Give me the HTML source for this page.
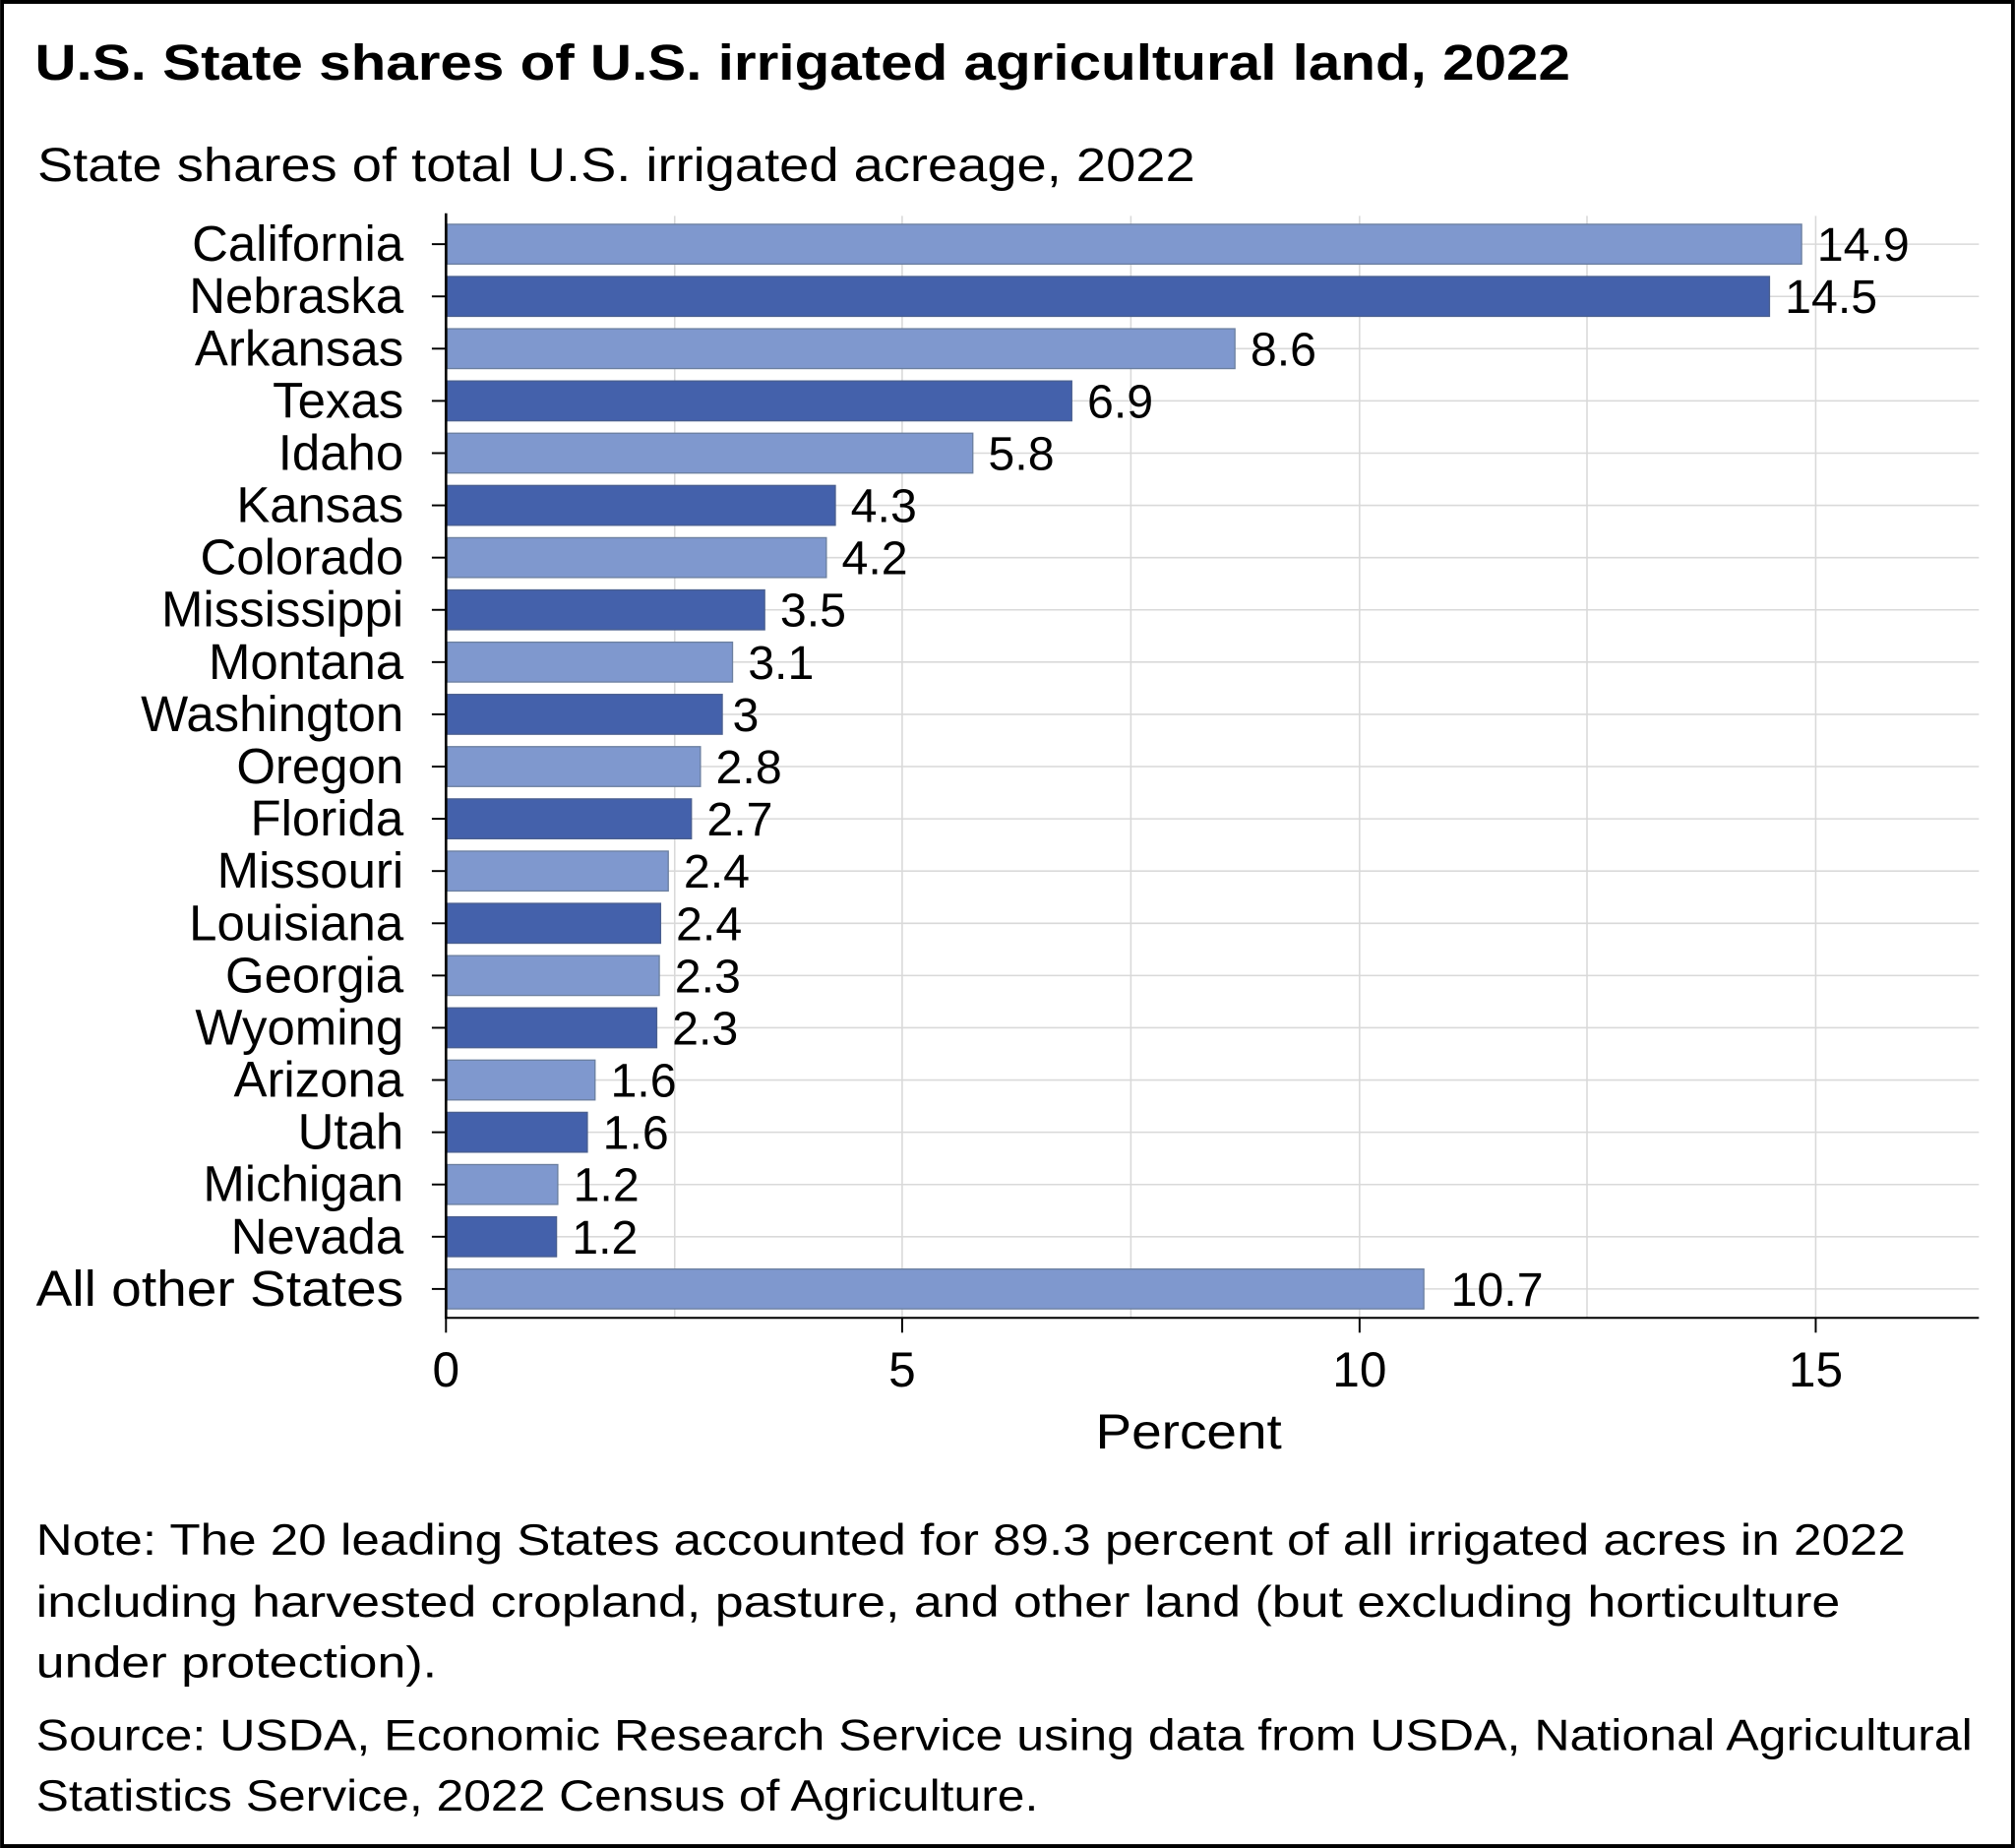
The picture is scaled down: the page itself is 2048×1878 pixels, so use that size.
<!DOCTYPE html>
<html><head><meta charset="utf-8"><style>
html,body{margin:0;padding:0;background:#fff}
svg{display:block}
text{font-family:"Liberation Sans",Arial,sans-serif;fill:#000}
.l{font-size:39px;text-anchor:end}
.v{font-size:37px}
.a{fill:#7f98ce;stroke:#6b7f9f;stroke-width:1}
.b{fill:#4461ab;stroke:#4a5f8f;stroke-width:1}
</style></head><body>
<svg width="2048" height="1878" viewBox="0 0 1568 1438" xmlns="http://www.w3.org/2000/svg">
<rect x="1.5" y="1.5" width="1565" height="1435" fill="#fff" stroke="#000" stroke-width="3"/>
<text x="27" y="62" font-size="39" font-weight="bold" textLength="1195" lengthAdjust="spacingAndGlyphs">U.S. State shares of U.S. irrigated agricultural land, 2022</text>
<text x="29" y="141" font-size="37" textLength="901" lengthAdjust="spacingAndGlyphs">State shares of total U.S. irrigated acreage, 2022</text>
<g stroke="#d9d9d9" stroke-width="1.2">
<line x1="525" y1="168" x2="525" y2="1025"/>
<line x1="702" y1="168" x2="702" y2="1025"/>
<line x1="880" y1="168" x2="880" y2="1025"/>
<line x1="1058" y1="168" x2="1058" y2="1025"/>
<line x1="1235" y1="168" x2="1235" y2="1025"/>
<line x1="1413" y1="168" x2="1413" y2="1025"/>
<line x1="347" y1="190" x2="1540" y2="190"/>
<line x1="347" y1="230.65" x2="1540" y2="230.65"/>
<line x1="347" y1="271.3" x2="1540" y2="271.3"/>
<line x1="347" y1="311.95" x2="1540" y2="311.95"/>
<line x1="347" y1="352.6" x2="1540" y2="352.6"/>
<line x1="347" y1="393.25" x2="1540" y2="393.25"/>
<line x1="347" y1="433.9" x2="1540" y2="433.9"/>
<line x1="347" y1="474.55" x2="1540" y2="474.55"/>
<line x1="347" y1="515.2" x2="1540" y2="515.2"/>
<line x1="347" y1="555.85" x2="1540" y2="555.85"/>
<line x1="347" y1="596.5" x2="1540" y2="596.5"/>
<line x1="347" y1="637.15" x2="1540" y2="637.15"/>
<line x1="347" y1="677.8" x2="1540" y2="677.8"/>
<line x1="347" y1="718.45" x2="1540" y2="718.45"/>
<line x1="347" y1="759.1" x2="1540" y2="759.1"/>
<line x1="347" y1="799.75" x2="1540" y2="799.75"/>
<line x1="347" y1="840.4" x2="1540" y2="840.4"/>
<line x1="347" y1="881.05" x2="1540" y2="881.05"/>
<line x1="347" y1="921.7" x2="1540" y2="921.7"/>
<line x1="347" y1="962.35" x2="1540" y2="962.35"/>
<line x1="347" y1="1003" x2="1540" y2="1003"/>
</g>
<g stroke="#000" stroke-width="1.5">
<line x1="336" y1="190" x2="347" y2="190"/>
<line x1="336" y1="230.65" x2="347" y2="230.65"/>
<line x1="336" y1="271.3" x2="347" y2="271.3"/>
<line x1="336" y1="311.95" x2="347" y2="311.95"/>
<line x1="336" y1="352.6" x2="347" y2="352.6"/>
<line x1="336" y1="393.25" x2="347" y2="393.25"/>
<line x1="336" y1="433.9" x2="347" y2="433.9"/>
<line x1="336" y1="474.55" x2="347" y2="474.55"/>
<line x1="336" y1="515.2" x2="347" y2="515.2"/>
<line x1="336" y1="555.85" x2="347" y2="555.85"/>
<line x1="336" y1="596.5" x2="347" y2="596.5"/>
<line x1="336" y1="637.15" x2="347" y2="637.15"/>
<line x1="336" y1="677.8" x2="347" y2="677.8"/>
<line x1="336" y1="718.45" x2="347" y2="718.45"/>
<line x1="336" y1="759.1" x2="347" y2="759.1"/>
<line x1="336" y1="799.75" x2="347" y2="799.75"/>
<line x1="336" y1="840.4" x2="347" y2="840.4"/>
<line x1="336" y1="881.05" x2="347" y2="881.05"/>
<line x1="336" y1="921.7" x2="347" y2="921.7"/>
<line x1="336" y1="962.35" x2="347" y2="962.35"/>
<line x1="336" y1="1003" x2="347" y2="1003"/>
</g>
<rect class="a" x="348" y="174.5" width="1054" height="31"/>
<rect class="b" x="348" y="215.15" width="1029" height="31"/>
<rect class="a" x="348" y="255.8" width="613" height="31"/>
<rect class="b" x="348" y="296.45" width="486" height="31"/>
<rect class="a" x="348" y="337.1" width="409" height="31"/>
<rect class="b" x="348" y="377.75" width="302" height="31"/>
<rect class="a" x="348" y="418.4" width="295" height="31"/>
<rect class="b" x="348" y="459.05" width="247" height="31"/>
<rect class="a" x="348" y="499.7" width="222" height="31"/>
<rect class="b" x="348" y="540.35" width="214" height="31"/>
<rect class="a" x="348" y="581" width="197" height="31"/>
<rect class="b" x="348" y="621.65" width="190" height="31"/>
<rect class="a" x="348" y="662.3" width="172" height="31"/>
<rect class="b" x="348" y="702.95" width="166" height="31"/>
<rect class="a" x="348" y="743.6" width="165" height="31"/>
<rect class="b" x="348" y="784.25" width="163" height="31"/>
<rect class="a" x="348" y="824.9" width="115" height="31"/>
<rect class="b" x="348" y="865.55" width="109" height="31"/>
<rect class="a" x="348" y="906.2" width="86" height="31"/>
<rect class="b" x="348" y="946.85" width="85" height="31"/>
<rect class="a" x="348" y="987.5" width="760" height="31"/>
<g class="v">
<text x="1414" y="203">14.9</text>
<text x="1389" y="243.65">14.5</text>
<text x="973" y="284.3">8.6</text>
<text x="846" y="324.95">6.9</text>
<text x="769" y="365.6">5.8</text>
<text x="662" y="406.25">4.3</text>
<text x="655" y="446.9">4.2</text>
<text x="607" y="487.55">3.5</text>
<text x="582" y="528.2">3.1</text>
<text x="570" y="568.85">3</text>
<text x="557" y="609.5">2.8</text>
<text x="550" y="650.15">2.7</text>
<text x="532" y="690.8">2.4</text>
<text x="526" y="731.45">2.4</text>
<text x="525" y="772.1">2.3</text>
<text x="523" y="812.75">2.3</text>
<text x="475" y="853.4">1.6</text>
<text x="469" y="894.05">1.6</text>
<text x="446" y="934.7">1.2</text>
<text x="445" y="975.35">1.2</text>
<text x="1129" y="1016">10.7</text>
</g>
<g class="l">
<text x="314" y="203">California</text>
<text x="314" y="243.65">Nebraska</text>
<text x="314" y="284.3">Arkansas</text>
<text x="314" y="324.95">Texas</text>
<text x="314" y="365.6">Idaho</text>
<text x="314" y="406.25">Kansas</text>
<text x="314" y="446.9">Colorado</text>
<text x="314" y="487.55">Mississippi</text>
<text x="314" y="528.2">Montana</text>
<text x="314" y="568.85">Washington</text>
<text x="314" y="609.5">Oregon</text>
<text x="314" y="650.15">Florida</text>
<text x="314" y="690.8">Missouri</text>
<text x="314" y="731.45">Louisiana</text>
<text x="314" y="772.1">Georgia</text>
<text x="314" y="812.75">Wyoming</text>
<text x="314" y="853.4">Arizona</text>
<text x="314" y="894.05">Utah</text>
<text x="314" y="934.7">Michigan</text>
<text x="314" y="975.35">Nevada</text>
<text x="314" y="1016" textLength="286" lengthAdjust="spacingAndGlyphs">All other States</text>
</g>
<line x1="347" y1="166" x2="347" y2="1026" stroke="#000" stroke-width="2"/>
<line x1="346" y1="1025.5" x2="1540" y2="1025.5" stroke="#000" stroke-width="1.5"/>
<g stroke="#000" stroke-width="1.5">
<line x1="347" y1="1025" x2="347" y2="1037"/><line x1="702" y1="1025" x2="702" y2="1037"/>
<line x1="1058" y1="1025" x2="1058" y2="1037"/><line x1="1413" y1="1025" x2="1413" y2="1037"/>
</g>
<g font-size="38" text-anchor="middle">
<text x="347" y="1079">0</text><text x="702" y="1079">5</text>
<text x="1058" y="1079">10</text><text x="1413" y="1079">15</text>
<text x="925" y="1127" textLength="145" lengthAdjust="spacingAndGlyphs">Percent</text>
</g>
<g font-size="34">
<text x="28" y="1210" textLength="1455" lengthAdjust="spacingAndGlyphs">Note: The 20 leading States accounted for 89.3 percent of all irrigated acres in 2022</text>
<text x="28" y="1258" textLength="1404" lengthAdjust="spacingAndGlyphs">including harvested cropland, pasture, and other land (but excluding horticulture</text>
<text x="28" y="1305" textLength="312" lengthAdjust="spacingAndGlyphs">under protection).</text>
<text x="28" y="1362" textLength="1507" lengthAdjust="spacingAndGlyphs">Source: USDA, Economic Research Service using data from USDA, National Agricultural</text>
<text x="28" y="1409" textLength="780" lengthAdjust="spacingAndGlyphs">Statistics Service, 2022 Census of Agriculture.</text>
</g>
</svg>
</body></html>
